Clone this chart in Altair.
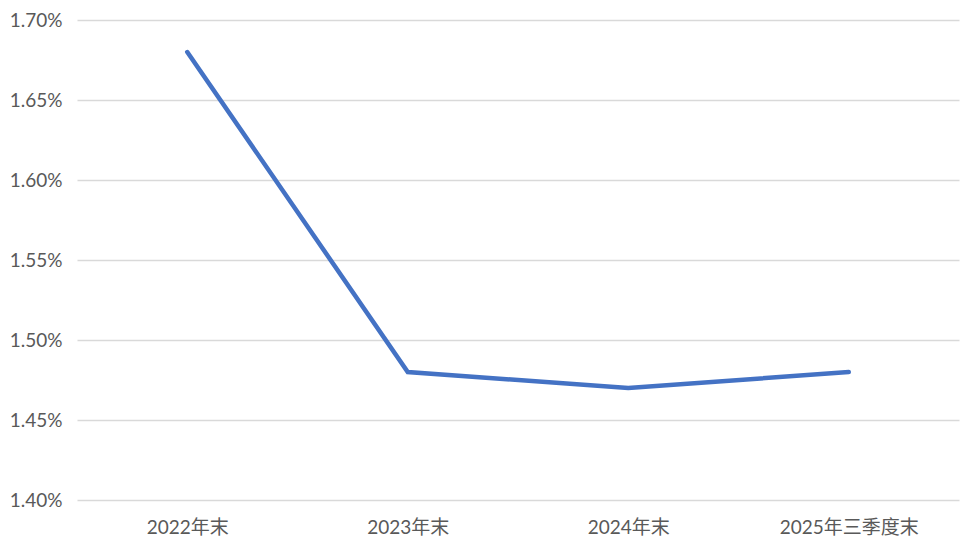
import altair as alt
import pandas as pd

categories = ["2022年末", "2023年末", "2024年末", "2025年三季度末"]
values = [0.0168, 0.0148, 0.0147, 0.0148]

df = pd.DataFrame({"cat": categories, "val": values})

FONT = "Lato, 'Noto Sans CJK SC', sans-serif"

chart = alt.Chart(df).mark_line(color="#4472C4", strokeWidth=4.5, strokeCap="round").encode(
    x=alt.X("cat:N", sort=categories, title=None,
            scale=alt.Scale(type="point", padding=0.5),
            axis=alt.Axis(labelAngle=0, ticks=False, domain=False, grid=False,
                          labelFontSize=19, labelColor="#595959", labelFont=FONT,
                          labelPadding=18)),
    y=alt.Y("val:Q", title=None,
            scale=alt.Scale(domain=[0.014, 0.017], nice=False, zero=False),
            axis=alt.Axis(format=".2%", values=[0.014, 0.0145, 0.015, 0.0155, 0.016, 0.0165, 0.017],
                          ticks=False, domain=False, grid=True, gridColor="#D9D9D9", gridWidth=1.5,
                          labelFontSize=19, labelColor="#595959", labelFont=FONT,
                          labelPadding=15)),
).properties(
    width=882, height=480,
    autosize=alt.AutoSizeParams(type="none"),
    padding={"left": 69, "top": 12, "right": 4, "bottom": 40},
).configure_view(stroke=None)

chart.save("out.html", embed_options={"renderer": "svg", "actions": False})
